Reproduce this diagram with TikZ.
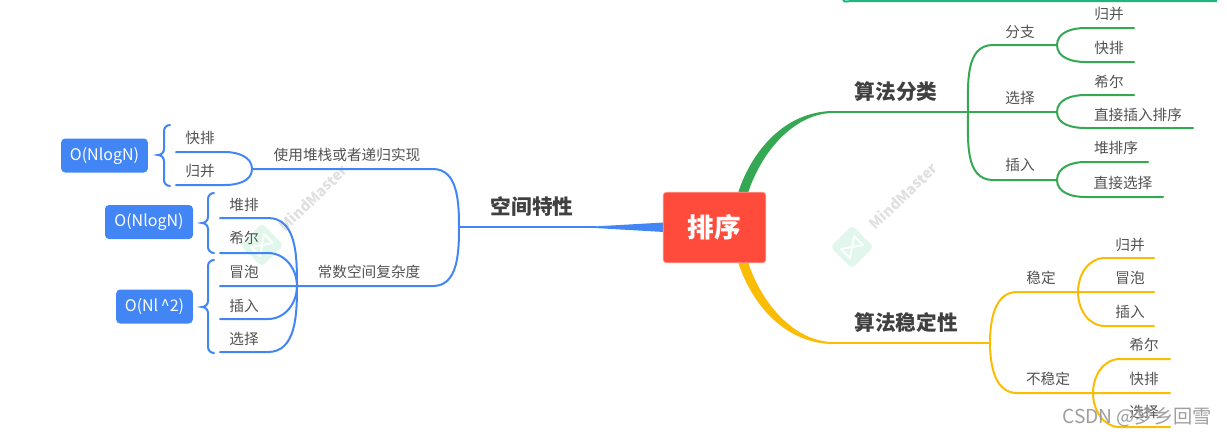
\documentclass[tikz,border=0pt]{standalone}
\usepackage{xcolor}
\usepackage{fontspec}
\setmainfont{Noto Sans CJK SC}
\usetikzlibrary{arrows.meta, positioning, calc}
\definecolor{rootred}{HTML}{FF4B3C}
\definecolor{sortblue}{HTML}{4285F4}
\definecolor{sortgreen}{HTML}{34A853}
\definecolor{sortyellow}{HTML}{FBBC05}
\definecolor{topbar}{HTML}{1DB67C}
\definecolor{logogreen}{HTML}{E2F7EC}
\tikzset{
  root/.style     = {draw=rootred!55!white, line width=0.6pt, fill=rootred, rounded corners=2.5pt,
                     minimum width=77pt, minimum height=53pt, inner sep=0pt,
                     font=\fontsize{20}{22}\selectfont\bfseries, text=white},
  topic/.style    = {font=\fontsize{15.5}{17}\selectfont\bfseries, text=black!75, inner sep=0pt},
  leaf/.style     = {font=\fontsize{11}{13}\selectfont, text=black!68, inner sep=0pt},
  cost/.style     = {fill=sortblue, rounded corners=3pt, inner sep=0pt,
                     minimum height=25.5pt, font=\fontsize{12}{14}\selectfont, text=white},
  wmark/.style    = {font=\fontsize{11}{13}\selectfont\bfseries, text=black!12, rotate=44, inner sep=0pt},
  logo/.style     = {fill=logogreen, rounded corners=3pt, rotate=45,
                     minimum size=23pt, inner sep=0pt},
  blueline/.style   = {draw=sortblue, line width=1.5pt, line cap=round},
  greenline/.style  = {draw=sortgreen, line width=1.5pt, line cap=round},
  yellowline/.style = {draw=sortyellow, line width=1.5pt, line cap=round},
  logoline/.style   = {draw=white, line width=1.4pt, line join=round},
}

\begin{document}
\begin{tikzpicture}[x=0.75pt, y=-0.75pt]
  \useasboundingbox (0,0) rectangle (1227,437);

  % ---------- watermarks ---------------------------------------------
  \foreach \name/\cx/\cy in {logoL/262/245, logoR/852/247} {
    \node[logo] (\name) at (\cx,\cy) {};
    \draw[logoline] (\cx-11,\cy+2) -- (\cx-2,\cy+11) -- (\cx+2,\cy-11)
      -- (\cx+11,\cy-2) -- cycle;
  }
  \node[wmark] (markL) at (313,198) {MindMaster};
  \node[wmark] (markR) at (903,196) {MindMaster};

  % ---------- top edge -----------------------------------------------
  \coordinate (barL) at (843,0);
  \coordinate (barM) at (851,1);
  \coordinate (barR) at (1217,1);
  \draw[topbar, line width=1.5pt] (barL) to[out=-60,in=180] (barM) -- (barR);

  % ---------- tapered links out of the root ---------------------------
  \fill[sortblue] (595,226.4) -- (664,222.5) -- (664,232) -- (595,228) -- cycle;
  \fill[sortgreen] (738,193) .. controls (752,150) and (785,112) .. (832,111)
    -- (832,113) .. controls (795,114) and (762,150) .. (748,193) -- cycle;
  \fill[sortyellow] (738,262) .. controls (752,305) and (785,343) .. (832,344)
    -- (832,342) .. controls (795,341) and (762,305) .. (748,262) -- cycle;

  \node[root] (root) at (714.5,227.5) {排序};

  % ---------- left: space ----------------------------------------------
  \node[topic] (space) at (532,207) {空间特性};
  \coordinate (spJoin) at (459,227);
  \draw[blueline] (spJoin) -- (596,227);

  % recursive branch
  \coordinate (recJoin) at (252,169);
  \coordinate (recA) at (176,152);
  \coordinate (recB) at (176,185);
  \node[leaf] (recText) at (347,155) {使用堆栈或者递归实现};
  \node[leaf] (recQuick) at (200,138) {快排};
  \node[leaf] (recMerge) at (200,171) {归并};
  \draw[blueline] (spJoin) to[out=90,in=0] (433,169) -- (recJoin);
  \draw[blueline] (recA) -- (225,152) to[out=0,in=90] (recJoin)
    to[out=-90,in=0] (225,185) -- (recB);

  % constant branch
  \coordinate (conJoin) at (297,286);
  \coordinate (conEnd) at (220,286);
  \node[leaf] (conText) at (369,272) {常数空间复杂度};
  \draw[blueline] (spJoin) to[out=-90,in=0] (433,286) -- (conEnd);
  \node[leaf] (conHeap) at (244,205) {堆排};
  \node[leaf] (conShell) at (244,238) {希尔};
  \node[leaf] (conBubble) at (244,272) {冒泡};
  \node[leaf] (conInsert) at (244,306) {插入};
  \node[leaf] (conSelect) at (244,339) {选择};
  \foreach \name/\y/\dir in {a/218/90, b/253/90, c/319/-90, d/352/-90} {
    \coordinate (con\name) at (220,\y);
    \draw[blueline] (con\name) -- (268,\y) to[out=0,in=\dir] (conJoin);
  }

  % ---------- complexity boxes and braces ------------------------------
  \node[cost, minimum width=65pt] (costA) at (104.5,155.5) {O(NlogN)};
  \node[cost, minimum width=66pt] (costB) at (149,222) {O(NlogN)};
  \node[cost, minimum width=57.5pt] (costC) at (154.5,306.5) {O(Nl\,\textasciicircum 2)};
  \foreach \x/\ytop/\ytip/\ybot in {164/125/155/186, 208/193/223/253, 208/260/307/353} {
    \draw[blueline] (\x+6,\ytop) to[out=180,in=90] (\x,\ytop+6) -- (\x,\ytip-6)
      to[out=-90,in=0] (\x-6,\ytip) to[out=0,in=90] (\x,\ytip+6) -- (\x,\ybot-6)
      to[out=-90,in=180] (\x+6,\ybot);
  }

  % ---------- right top: classes ---------------------------------------
  \node[topic] (classes) at (896,92) {算法分类};
  \coordinate (clStart) at (830,112);
  \coordinate (clJoin) at (968,112);
  \draw[greenline] (clStart) -- (clJoin) -- (1057,112);
  \draw[greenline] (1057,45) -- (993,45) to[out=180,in=90] (clJoin)
    to[out=-90,in=180] (993,180) -- (1057,180);
  \node[leaf] (clSwap) at (1020,32) {分支};
  \node[leaf] (clSelect) at (1020,98) {选择};
  \node[leaf] (clInsert) at (1020,165) {插入};
  % each entry: join height, upper leaf, lower leaf
  \foreach \y/\ya/\xa/\yb/\xb in {45/28/1134/62/1134, 112/95/1134/128/1193, 180/162/1148/197/1163} {
    \draw[greenline] (\xa,\ya) -- (1085,\ya) to[out=180,in=90] (1057,\y)
      to[out=-90,in=180] (1085,\yb) -- (\xb,\yb);
  }
  \node[leaf] (clMerge) at (1109,14) {归并};
  \node[leaf] (clQuick) at (1109,48) {快排};
  \node[leaf] (clShell) at (1109,82) {希尔};
  \node[leaf] (clDirect) at (1138,115) {直接插入排序};
  \node[leaf] (clHeap) at (1116,148) {堆排序};
  \node[leaf] (clChoose) at (1123,183) {直接选择};

  % ---------- right bottom: stability ----------------------------------
  \node[topic] (stable) at (906,323) {算法稳定性};
  \coordinate (stStart) at (830,343);
  \coordinate (stJoin) at (990,343);
  \draw[yellowline] (stStart) -- (stJoin);
  \draw[yellowline] (1154,292) -- (1017,292) to[out=180,in=90] (stJoin)
    to[out=-90,in=180] (1017,393) -- (1170,393);
  \node[leaf] (stYes) at (1041,278) {稳定};
  \node[leaf] (stNo) at (1048,379) {不稳定};
  \foreach \xj/\xt/\xe/\ya/\y/\yb in {1078/1105/1154/258/292/326, 1093/1120/1170/359/393/427} {
    \draw[yellowline] (\xe,\ya) -- (\xt,\ya) to[out=180,in=90] (\xj,\y)
      to[out=-90,in=180] (\xt,\yb) -- (\xe,\yb);
  }
  \node[leaf] (stMerge) at (1130,245) {归并};
  \node[leaf] (stBubble) at (1130,278) {冒泡};
  \node[leaf] (stInsert) at (1130,312) {插入};
  \node[leaf] (stShell) at (1144,345) {希尔};
  \node[leaf] (stQuick) at (1144,379) {快排};
  \node[leaf] (stSelect) at (1144,412) {选择};

  % ---------- source note ----------------------------------------------
  \node[font=\fontsize{14.4}{16}\selectfont, text=black!38, inner sep=0pt] (note) at (1137,417) {CSDN @梦乡回雪};
\end{tikzpicture}
\end{document}
